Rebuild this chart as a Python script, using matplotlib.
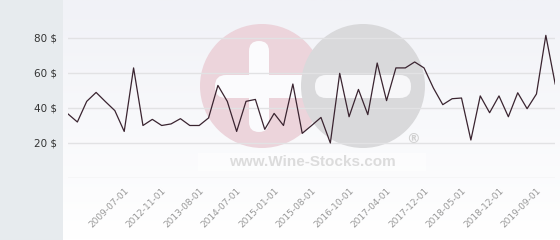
import numpy as np
import matplotlib
matplotlib.use("Agg")
import matplotlib.pyplot as plt
from matplotlib.patches import Circle, FancyBboxPatch, Rectangle

# prices in $, one per sample, evenly spaced on the x axis
prices = [36.6, 32.0, 43.8, 48.9, 43.6, 38.5, 26.6, 62.9, 30.0, 33.5,
          30.0, 30.9, 33.9, 30.0, 30.0, 34.3, 52.9, 43.8, 26.6, 43.8,
          44.9, 27.8, 36.9, 30.0, 53.7, 25.5, 30.0, 34.6, 20.0, 59.8,
          35.0, 50.6, 36.2, 65.7, 44.2, 62.9, 62.9, 66.3, 62.9, 51.4,
          41.9, 45.3, 45.7, 21.7, 46.9, 37.3, 46.9, 35.0, 48.7, 39.6,
          48.0, 81.5, 53.7]
tick_pos = [6, 10, 14, 18, 22, 26, 30, 34, 38, 42, 46, 50]
tick_labels = ["2009-07-01", "2012-11-01", "2013-08-01", "2014-07-01",
               "2015-01-01", "2015-08-01", "2016-10-01", "2017-04-01",
               "2017-12-01", "2018-05-01", "2018-12-01", "2019-09-01"]
y_ticks = [20, 40, 60, 80]

W, H = 560, 240
fig = plt.figure(figsize=(W / 100, H / 100), dpi=100)
fig.patch.set_facecolor("#ffffff")

# left grey strip
fig.add_artist(Rectangle((0, 0), 63 / W, 1, transform=fig.transFigure,
                         facecolor="#e7ebee", edgecolor="none", zorder=0))

# gradient background behind the plot
bg = fig.add_axes([63 / W, 0, 1 - 63 / W, 1], zorder=0)
grad = np.linspace(0, 1, 100).reshape(-1, 1)
bg.imshow(grad, aspect="auto", cmap=matplotlib.colors.LinearSegmentedColormap.from_list(
    "bgc", ["#f1f2f7", "#ffffff"]), extent=[0, 1, 0, 1], origin="upper")
bg.set_axis_off()

# watermark layer, in pixel coordinates
wm = fig.add_axes([0, 0, 1, 1], zorder=1)
wm.set_xlim(0, W)
wm.set_ylim(H, 0)
wm.set_axis_off()
wm.patch.set_alpha(0)
wm.add_patch(Circle((262, 86), 62, facecolor="#ecd4db", edgecolor="none"))
wm.add_patch(FancyBboxPatch((249, 41), 20, 91, boxstyle="round,pad=0,rounding_size=10",
                            facecolor="#fbfbfd", edgecolor="none"))
wm.add_patch(FancyBboxPatch((215, 75), 100, 23, boxstyle="round,pad=0,rounding_size=11",
                            facecolor="#fbfbfd", edgecolor="none"))
wm.add_patch(Circle((363, 86), 62, facecolor="#d9d9db", edgecolor="none"))
wm.add_patch(FancyBboxPatch((315, 75), 96, 23, boxstyle="round,pad=0,rounding_size=11",
                            facecolor="#f7f7f9", edgecolor="none"))
wm.add_patch(Rectangle((198, 153), 228, 18, facecolor="#ffffff", edgecolor="none", alpha=0.6))
wm.text(312, 162, "www.Wine-Stocks.com", ha="center", va="center", fontsize=11,
        fontweight="bold", color="#dcdcdc", family="Liberation Sans")
wm.text(413, 139, "®", ha="center", va="center", fontsize=10, color="#d0d0d0",
        fontweight="bold", family="DejaVu Sans")

# main chart
ax = fig.add_axes([68 / W, 1 - 178 / H, 487.2 / W, 178 / H], zorder=2)
ax.patch.set_alpha(0)
x = np.arange(len(prices))
ax.plot(x, prices, color="#3a2430", linewidth=0.9, zorder=3)
ax.set_xlim(0, len(prices) - 1)
ax.set_ylim(0, 101.7)

for v in [0] + y_ticks:
    ax.axhline(v, color="#e2e2e4", linewidth=1.0, zorder=1)

ax.set_yticks(y_ticks)
ax.set_yticklabels([f"{v} $" for v in y_ticks], fontsize=7.5, color="#333333")
ax.set_xticks(tick_pos)
ax.set_xticklabels(tick_labels, rotation=45, ha="right", rotation_mode="anchor",
                   fontsize=6.5, color="#999999")
ax.tick_params(axis="y", length=0, pad=8)
ax.tick_params(axis="x", length=0, pad=6)
for s in ax.spines.values():
    s.set_visible(False)

fig.savefig("out.png", dpi=100)
